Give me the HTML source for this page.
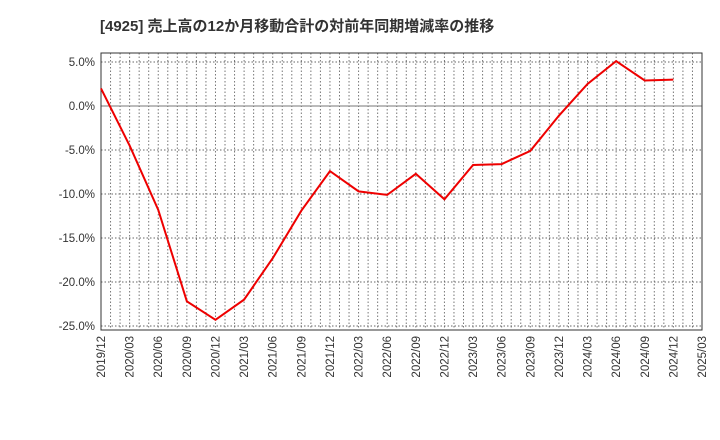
<!DOCTYPE html>
<html><head><meta charset="utf-8"><style>
body{margin:0;background:#fff;}
svg{display:block;font-family:"Liberation Sans","Noto Sans CJK JP",sans-serif;}
</style></head><body>
<svg id="chart" width="720" height="440">
<text x="100" y="31" font-size="15" font-weight="bold" fill="#333">[4925]  売上高の12か月移動合計の対前年同期増減率の推移</text>
<g id="grid"></g><g id="axes"></g><g id="series"></g>
</svg>
<script>
const categories=["2019/12","2020/03","2020/06","2020/09","2020/12","2021/03","2021/06","2021/09","2021/12","2022/03","2022/06","2022/09","2022/12","2023/03","2023/06","2023/09","2023/12","2024/03","2024/06","2024/09","2024/12","2025/03"];
const values=[2.0,-4.5,-11.8,-22.2,-24.3,-22.0,-17.3,-11.9,-7.4,-9.7,-10.1,-7.7,-10.6,-6.7,-6.6,-5.1,-1.1,2.5,5.1,2.9,3.0];
const yTicks=[5,0,-5,-10,-15,-20,-25];
const yTickLabels=["5.0%","0.0%","-5.0%","-10.0%","-15.0%","-20.0%","-25.0%"];
const L=101,R=702,T=53,B=330;
const NS="http://www.w3.org/2000/svg";
const x=i=>L+(R-L)*i/(categories.length-1);
const y=v=>106-v*8.8;
function mk(tag,attrs,parent){const e=document.createElementNS(NS,tag);for(const k in attrs)e.setAttribute(k,attrs[k]);document.getElementById(parent).appendChild(e);return e;}
// monthly vertical grid
for(let m=1;m<(categories.length-1)*3;m++){
  const xx=L+(R-L)*m/((categories.length-1)*3);
  const g=mk("line",{x1:xx,x2:xx,y1:T,y2:B,stroke:"#777","stroke-width":1,"stroke-dasharray":"1.5,2"},"grid");
  
  
}
yTicks.forEach((v,i)=>{
  const g=mk("line",{x1:L,x2:R,y1:y(v),y2:y(v),stroke:v===0?"#777":"#666","stroke-width":1,"stroke-dasharray":v===0?"":"1.5,2"},"grid");
  
  
  const t=mk("text",{x:L-6,y:y(v)+4,"text-anchor":"end","font-size":"11.5",fill:"#333"},"axes");
  t.textContent=yTickLabels[i];
  
  
});
const frame=mk("rect",{x:L,y:T,width:R-L,height:B-T,fill:"none",stroke:"#333","stroke-width":1},"axes");


categories.forEach((c,i)=>{
  const t=mk("text",{transform:`translate(${x(i)+4},${B+6}) rotate(-90)`,"text-anchor":"end","font-size":"11.5",fill:"#333"},"axes");
  t.textContent=c;
  
  
});
const p=mk("polyline",{points:values.map((v,i)=>x(i)+","+y(v)).join(" "),fill:"none",stroke:"#e00","stroke-width":2},"series");


</script>
</body></html>
